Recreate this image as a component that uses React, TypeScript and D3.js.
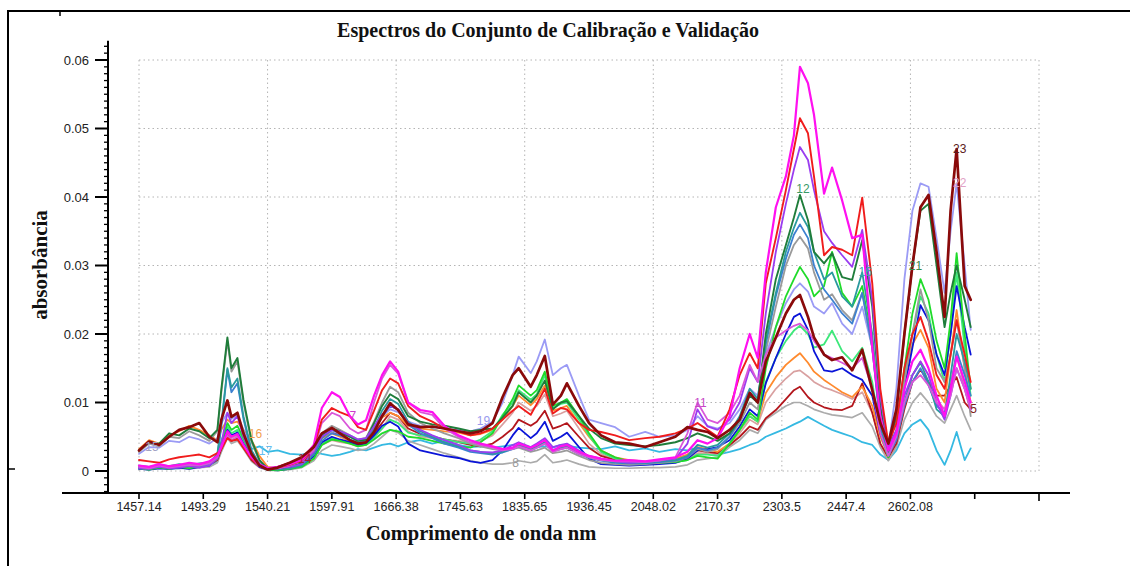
import React from 'react';
import * as d3 from 'd3';

// Spectrometer channel index of each sample (32 channels between labelled ticks)
const CHANNELS = [
  0, 5, 10, 15, 20, 25, 30, 35, 39, 41,
  44, 46, 49, 52, 56, 60, 64, 69, 75, 81,
  87, 91, 96, 100, 105, 109, 113, 117, 121, 125,
  129, 134, 140, 146, 152, 159, 165, 170, 176, 181,
  186, 189, 195, 198, 202, 206, 210, 213, 219, 224,
  230, 237, 244, 252, 259, 267, 273, 278, 283, 288,
  294, 299, 304, 308, 312, 317, 322, 326, 329, 333,
  336, 341, 345, 350, 355, 360, 365, 369, 373, 377,
  381, 385, 389, 393, 397, 401, 404, 407, 411, 414,
];

// Wavelength labels (nm) at every 32nd channel
const TICK_LABELS = [
  '1457.14', '1493.29', '1540.21', '1597.91', '1666.38', '1745.63', '1835.65',
  '1936.45', '2048.02', '2170.37', '2303.5', '2447.4', '2602.08',
];
const TICK_CHANNELS = d3.range(0, 449, 32);
const Y_TICKS = [0, 0.01, 0.02, 0.03, 0.04, 0.05, 0.06];

// Absorbance of each sample spectrum, in units of 1e-4
const magentaSpec = [
  8, 6, 10, 7, 9, 12, 10, 14, 22, 35,
  58, 50, 54, 38, 20, 9, 4, 6, 10, 16,
  38, 92, 115, 108, 80, 68, 74, 110, 140, 160,
  145, 100, 89, 86, 66, 52, 45, 40, 36, 32,
  34, 40, 34, 38, 45, 30, 36, 38, 28, 22,
  18, 15, 16, 14, 17, 20, 28, 45, 40, 48,
  80, 150, 200, 165, 290, 385, 430, 490, 590, 566,
  520, 405, 443, 395, 340, 345, 180, 80, 30, 55,
  120, 160, 177, 150, 110, 80, 120, 167, 130, 100,
];
const redSpec = [
  16, 14, 12, 17, 20, 22, 24, 20, 26, 32,
  48, 44, 46, 34, 18, 8, 4, 5, 9, 15,
  35, 75, 92, 86, 80, 64, 60, 88, 118, 135,
  128, 95, 80, 72, 62, 58, 52, 55, 62, 75,
  88, 95, 82, 98, 120, 84, 92, 90, 70, 60,
  57, 52, 45, 48, 50, 55, 62, 70, 60, 50,
  90, 140, 172, 150, 274, 340, 410, 470, 515, 493,
  430, 315, 327, 323, 315, 399, 274, 120, 40, 70,
  150, 200, 225, 190, 140, 120, 170, 220, 170, 130,
];
const purpleSpec = [
  4, 3, 6, 4, 5, 7, 5, 8, 18, 40,
  85, 70, 80, 50, 25, 10, 5, 4, 6, 10,
  28, 50, 60, 58, 52, 46, 48, 65, 82, 95,
  90, 70, 60, 52, 45, 38, 30, 28, 27, 30,
  38, 42, 35, 40, 48, 35, 38, 40, 30, 22,
  18, 14, 12, 13, 15, 18, 40, 90, 65, 60,
  75, 100, 150, 130, 230, 320, 390, 440, 473, 454,
  410, 350, 333, 315, 298, 352, 250, 110, 35, 60,
  110, 140, 160, 140, 100, 75, 110, 150, 120, 90,
];
const darkGreenSpec = [
  30, 42, 40, 55, 52, 62, 58, 48, 60, 120,
  195, 150, 165, 104, 45, 16, 3, 4, 6, 12,
  30, 52, 62, 58, 50, 44, 46, 70, 95, 112,
  105, 80, 72, 68, 66, 62, 58, 60, 62, 78,
  95, 115, 100, 110, 132, 90, 100, 102, 80, 62,
  48, 40, 38, 36, 38, 42, 48, 55, 50, 44,
  55, 75, 110, 100, 200, 280, 330, 370, 403, 366,
  320, 303, 318, 283, 279, 337, 240, 95, 30, 80,
  200, 300, 380, 390, 300, 210, 260, 300, 250, 210,
];
const tealSpec = [
  8, 6, 9, 7, 10, 8, 11, 12, 25, 70,
  150, 122, 135, 80, 30, 10, 3, 2, 4, 8,
  25, 48, 60, 56, 50, 44, 45, 62, 88, 105,
  98, 72, 58, 50, 42, 36, 30, 28, 25, 28,
  34, 38, 32, 36, 42, 30, 34, 36, 26, 20,
  16, 13, 12, 12, 14, 16, 22, 38, 34, 38,
  55, 80, 120, 105, 190, 260, 320, 355, 377, 356,
  320, 280, 290, 255, 240, 290, 200, 70, 25, 50,
  100, 140, 158, 130, 90, 80, 140, 200, 160, 120,
];
const steelBlueSpec = [
  5, 4, 7, 5, 6, 9, 7, 10, 22, 65,
  148, 115, 128, 76, 28, 9, 4, 3, 5, 9,
  24, 44, 55, 52, 46, 42, 43, 58, 80, 95,
  90, 68, 55, 48, 40, 34, 28, 26, 24, 27,
  32, 36, 30, 34, 40, 29, 32, 34, 25, 19,
  15, 12, 11, 11, 13, 15, 20, 34, 30, 34,
  50, 75, 115, 100, 185, 255, 310, 345, 360, 340,
  300, 265, 250, 230, 215, 260, 180, 65, 22, 45,
  95, 130, 150, 125, 95, 85, 120, 175, 140, 110,
];
const graySpec = [
  28, 40, 36, 50, 48, 58, 52, 44, 58, 115,
  190, 145, 160, 100, 42, 14, 4, 3, 5, 10,
  28, 55, 66, 60, 52, 46, 48, 72, 100, 123,
  115, 85, 70, 62, 55, 48, 40, 36, 32, 30,
  32, 34, 28, 30, 34, 26, 28, 30, 22, 16,
  12, 10, 9, 10, 12, 14, 20, 32, 28, 32,
  50, 70, 100, 90, 175, 240, 300, 330, 342, 325,
  290, 250, 258, 235, 220, 260, 180, 70, 28, 55,
  130, 200, 265, 220, 150, 130, 170, 220, 150, 80,
];
const greenSpec = [
  4, 2, 5, 3, 6, 4, 7, 9, 18, 40,
  70, 60, 66, 48, 24, 8, 2, 1, 3, 6,
  18, 38, 46, 44, 40, 36, 38, 46, 55, 60,
  58, 50, 48, 44, 40, 36, 34, 42, 55, 80,
  105, 125, 110, 118, 145, 95, 100, 105, 80, 55,
  30, 20, 14, 12, 12, 13, 16, 22, 20, 18,
  40, 60, 85, 75, 150, 210, 255, 280, 298, 280,
  255, 270, 320, 260, 240, 270, 190, 70, 20, 60,
  150, 230, 280, 250, 190, 150, 220, 318, 200, 120,
];
const lavenderSpec = [
  25, 35, 34, 44, 42, 50, 46, 40, 48, 70,
  85, 76, 82, 60, 30, 10, 4, 6, 8, 12,
  30, 50, 58, 55, 50, 45, 48, 66, 80, 90,
  86, 72, 66, 64, 62, 60, 58, 62, 72, 100,
  140, 167, 143, 160, 192, 140, 150, 155, 110, 75,
  70, 64, 50, 57, 50, 52, 60, 80, 66, 62,
  70, 90, 120, 110, 170, 210, 245, 265, 274, 262,
  240, 230, 245, 215, 200, 240, 180, 80, 35, 120,
  280, 380, 420, 415, 340, 260, 350, 420, 300, 206,
];
const maroonSpec = [
  30, 43, 38, 50, 60, 64, 70, 50, 42, 75,
  103, 79, 85, 55, 25, 8, 2, 5, 12, 20,
  35, 55, 63, 55, 45, 40, 42, 57, 80, 99,
  89, 68, 64, 65, 62, 58, 55, 58, 70, 108,
  140, 150, 123, 140, 168, 97, 110, 128, 95, 70,
  52, 42, 40, 35, 42, 50, 64, 60, 57, 48,
  60, 75, 114, 100, 160, 195, 230, 250, 257, 225,
  195, 170, 162, 166, 147, 177, 118, 70, 40, 90,
  200, 300, 385, 403, 320, 225, 380, 470, 270, 250,
];
const blueSpec = [
  3, 2, 4, 3, 5, 3, 6, 8, 20, 40,
  60, 52, 56, 40, 20, 6, 2, 1, 3, 8,
  22, 42, 50, 46, 42, 38, 40, 52, 66, 72,
  65, 40, 30, 26, 22, 19, 14, 12, 16, 30,
  52, 63, 48, 55, 72, 44, 50, 56, 35, 18,
  10, 9, 8, 9, 10, 12, 18, 30, 32, 35,
  45, 65, 90, 80, 128, 165, 200, 225, 230, 206,
  175, 147, 145, 150, 140, 133, 110, 55, 25, 50,
  120, 180, 242, 220, 170, 140, 200, 270, 210, 170,
];
const springGreenSpec = [
  6, 4, 7, 5, 8, 6, 9, 10, 20, 45,
  65, 55, 60, 45, 22, 8, 2, 2, 3, 7,
  20, 40, 48, 45, 41, 37, 39, 50, 62, 75,
  70, 56, 52, 50, 46, 42, 40, 46, 58, 82,
  100, 118, 104, 112, 140, 92, 98, 100, 75, 52,
  28, 18, 13, 12, 12, 13, 16, 24, 24, 22,
  40, 60, 80, 72, 130, 165, 190, 205, 212, 200,
  180, 185, 205, 175, 160, 180, 130, 55, 20, 55,
  140, 200, 255, 230, 170, 130, 200, 290, 180, 110,
];
const orangeSpec = [
  32, 45, 40, 52, 58, 66, 60, 52, 45, 60,
  75, 70, 72, 60, 45, 22, 6, 4, 10, 18,
  32, 48, 55, 50, 44, 40, 44, 60, 78, 85,
  80, 66, 62, 60, 58, 56, 52, 54, 60, 75,
  95, 110, 96, 105, 125, 88, 92, 95, 70, 50,
  30, 20, 16, 14, 15, 18, 24, 35, 32, 28,
  40, 60, 80, 72, 114, 137, 155, 165, 172, 158,
  145, 133, 125, 115, 108, 123, 95, 50, 22, 55,
  130, 185, 206, 180, 120, 100, 170, 235, 150, 100,
];
const rosySpec = [
  5, 3, 6, 4, 7, 5, 8, 9, 18, 38,
  55, 48, 52, 38, 18, 6, 2, 2, 4, 8,
  20, 38, 45, 42, 40, 36, 38, 48, 62, 80,
  75, 58, 50, 48, 46, 44, 42, 44, 52, 68,
  85, 100, 88, 95, 112, 80, 84, 88, 62, 40,
  25, 16, 13, 12, 13, 14, 18, 26, 26, 25,
  40, 55, 75, 68, 100, 120, 135, 145, 147, 138,
  130, 122, 118, 112, 105, 115, 85, 40, 18, 45,
  100, 140, 160, 140, 105, 90, 130, 170, 120, 85,
];
const darkRedSpec = [
  6, 5, 8, 6, 9, 7, 10, 9, 16, 32,
  52, 44, 48, 34, 16, 6, 3, 6, 12, 18,
  30, 50, 58, 52, 44, 40, 42, 55, 70, 85,
  80, 62, 54, 50, 46, 42, 38, 36, 40, 50,
  62, 75, 66, 72, 88, 62, 66, 70, 50, 34,
  22, 16, 14, 13, 14, 16, 20, 30, 28, 26,
  38, 50, 65, 60, 77, 89, 105, 118, 123, 108,
  100, 93, 90, 89, 95, 128, 85, 40, 20, 40,
  90, 130, 148, 130, 110, 110, 125, 137, 100, 90,
];
const lightGraySpec = [
  3, 2, 4, 3, 4, 3, 5, 6, 12, 28,
  48, 40, 44, 32, 14, 5, 1, 1, 2, 5,
  15, 30, 38, 36, 33, 30, 32, 40, 50, 60,
  56, 44, 38, 32, 26, 20, 15, 12, 10, 10,
  12, 15, 12, 14, 24, 12, 14, 16, 10, 6,
  5, 4, 4, 5, 5, 6, 9, 16, 18, 20,
  35, 45, 60, 55, 75, 85, 95, 100, 100, 95,
  90, 85, 82, 80, 78, 85, 65, 35, 15, 35,
  75, 100, 114, 100, 80, 70, 90, 110, 80, 60,
];
const cyanSpec = [
  4, 2, 5, 3, 4, 6, 5, 8, 14, 30,
  50, 44, 46, 36, 32, 36, 28, 30, 25, 24,
  28, 25, 22, 24, 28, 32, 30, 34, 38, 40,
  36, 42, 45, 40, 44, 38, 35, 36, 34, 36,
  38, 36, 33, 35, 36, 34, 38, 37, 34, 33,
  32, 36, 30, 33, 28, 32, 30, 34, 27, 24,
  28, 32, 38, 42, 50, 56, 62, 68, 72, 79,
  74, 66, 60, 55, 50, 42, 38, 24, 16, 30,
  55, 68, 75, 60, 30, 9, 30, 57, 16, 33,
];
const orchidSpec = [
  6, 4, 8, 5, 7, 9, 8, 11, 20, 36,
  52, 45, 50, 36, 18, 7, 3, 4, 8, 14,
  30, 70, 85, 80, 62, 55, 60, 100, 135, 155,
  142, 100, 86, 82, 62, 50, 42, 38, 34, 30,
  32, 36, 30, 34, 40, 28, 32, 34, 25, 20,
  16, 14, 14, 13, 15, 20, 55, 100, 75, 70,
  85, 110, 155, 130, 170, 195, 205, 212, 215, 205,
  190, 170, 165, 158, 150, 165, 120, 55, 22, 50,
  100, 130, 140, 125, 100, 90, 110, 150, 120, 90,
];

const UNIT = 1e-4;

// Drawing order: first entries sit underneath
const SERIES = [
  { key: 'cyan', color: '#35b9e2', width: 1.8, values: cyanSpec },
  { key: 'lightGray', color: '#ababab', width: 1.7, values: lightGraySpec },
  { key: 'rosy', color: '#d9a0a0', width: 1.7, values: rosySpec },
  { key: 'darkRed', color: '#b3161c', width: 1.8, values: darkRedSpec },
  { key: 'orange', color: '#ff8a2e', width: 1.8, values: orangeSpec },
  { key: 'springGreen', color: '#3de87a', width: 1.8, values: springGreenSpec },
  { key: 'blue', color: '#0a14d8', width: 1.8, values: blueSpec },
  { key: 'lavender', color: '#9b9bf5', width: 1.8, values: lavenderSpec },
  { key: 'green', color: '#1fdb2a', width: 1.8, values: greenSpec },
  { key: 'gray', color: '#9a9a9a', width: 1.8, values: graySpec },
  { key: 'steelBlue', color: '#3d80d0', width: 1.8, values: steelBlueSpec },
  { key: 'teal', color: '#2a9a9e', width: 1.8, values: tealSpec },
  { key: 'darkGreen', color: '#1f7d3a', width: 1.9, values: darkGreenSpec },
  { key: 'purple', color: '#9a3cf0', width: 1.8, values: purpleSpec },
  { key: 'orchid', color: '#d957d9', width: 1.8, values: orchidSpec },
  { key: 'red', color: '#f01c1c', width: 1.9, values: redSpec },
  { key: 'magenta', color: '#ff10f0', width: 2.2, values: magentaSpec },
  { key: 'maroon', color: '#8a0a0a', width: 2.7, values: maroonSpec },
];

// Sample numbers written on the curves (series, sample column, nudge)
const CURVE_LABELS = [
  { text: '15', series: 'lavender', col: 1, color: '#a2a2c4', dx: 0, dy: 0 },
  { text: '16', series: 'orange', col: 14, color: '#f2a050', dx: 1, dy: -6 },
  { text: '17', series: 'cyan', col: 15, color: '#66bdf0', dx: 3, dy: 5 },
  { text: '14', series: 'darkRed', col: 19, color: '#a81f2c', dx: 0, dy: 0 },
  { text: '7', series: 'magenta', col: 24, color: '#cc3acc', dx: 0, dy: 0 },
  { text: '19', series: 'lavender', col: 37, color: '#9a9aee', dx: 0, dy: -8 },
  { text: '8', series: 'lightGray', col: 40, color: '#9a9a9a', dx: 0, dy: 0 },
  { text: '11', series: 'orchid', col: 57, color: '#c648c6', dx: 0, dy: 0 },
  { text: '12', series: 'darkGreen', col: 68, color: '#3a9a66', dx: 0, dy: -6 },
  { text: '16', series: 'teal', col: 75, color: '#34aaaa', dx: 0, dy: 0 },
  { text: '21', series: 'darkGreen', col: 81, color: '#3a8a48', dx: 0, dy: 0 },
  { text: '23', series: 'maroon', col: 87, color: '#5a2020', dx: 0, dy: 0 },
  { text: '22', series: 'lavender', col: 87, color: '#e2a2c6', dx: 0, dy: 0 },
  { text: '5', series: 'darkRed', col: 89, color: '#7a2020', dx: 0, dy: 0 },
];

export default function App() {
  const W = 1130;
  const H = 566;
  const x = d3.scaleLinear().domain([0, 448]).range([139, 1039]);
  const y = d3.scaleLinear().domain([0, 0.06]).range([471, 60]);

  const line = d3
    .line<number>()
    .x((_, i) => x(CHANNELS[i]))
    .y((d) => y(d * UNIT));

  const axisY = 493;
  const axisX = 108;
  const minorTicks = d3.range(-3, 63).filter((v) => v % 10 !== 0).map((v) => v / 1000);
  const gridX = d3.range(0, 449, 64);

  const seriesByKey: Record<string, (typeof SERIES)[number]> = {};
  SERIES.forEach((s) => (seriesByKey[s.key] = s));

  const sans = "'Liberation Sans', Arial, sans-serif";
  const serif = "'Liberation Serif', 'Times New Roman', serif";

  return (
    <svg
      width={W}
      height={H}
      viewBox={`0 0 ${W} ${H}`}
      style={{ position: 'absolute', left: 0, top: 0, background: '#fff' }}
    >
      <rect x={0} y={0} width={W} height={H} fill="#fff" />
      {/* outer frame */}
      <line x1={8} y1={11} x2={W} y2={11} stroke="#000" strokeWidth={2} />
      <line x1={8} y1={10} x2={8} y2={H} stroke="#000" strokeWidth={2} />
      <line x1={60} y1={11} x2={60} y2={16} stroke="#000" strokeWidth={1.5} />
      <line x1={9} y1={469} x2={15} y2={469} stroke="#000" strokeWidth={1.5} />

      {/* title */}
      <text x={548} y={37} textAnchor="middle" fontFamily={serif} fontWeight="bold" fontSize={20} fill="#111">
        Espectros do Conjunto de Calibração e Validação
      </text>

      {/* dotted grid */}
      <g stroke="#b4b4b4" strokeWidth={1} strokeDasharray="1.5 3">
        {Y_TICKS.map((v) => (
          <line key={`gy${v}`} x1={x(0)} x2={x(448)} y1={y(v)} y2={y(v)} />
        ))}
        {gridX.map((c) => (
          <line key={`gx${c}`} x1={x(c)} x2={x(c)} y1={y(0.06)} y2={y(0)} />
        ))}
      </g>

      {/* spectra */}
      <g fill="none" strokeLinejoin="round" strokeLinecap="round">
        {SERIES.map((s) => (
          <path key={s.key} d={line(s.values) || ''} stroke={s.color} strokeWidth={s.width} />
        ))}
      </g>

      {/* sample numbers */}
      <g fontFamily={sans} fontSize={12} textAnchor="middle">
        {CURVE_LABELS.map((l, i) => {
          const s = seriesByKey[l.series];
          return (
            <text
              key={`lab${i}`}
              x={x(CHANNELS[l.col]) + 3 + l.dx}
              y={y(s.values[l.col] * UNIT) + 4 + l.dy}
              fill={l.color}
            >
              {l.text}
            </text>
          );
        })}
      </g>

      {/* y axis */}
      <line x1={axisX} x2={axisX} y1={y(0.0628)} y2={axisY} stroke="#000" strokeWidth={2} />
      {minorTicks.map((v) => (
        <line key={`mt${v}`} x1={axisX - 4} x2={axisX} y1={y(v)} y2={y(v)} stroke="#000" strokeWidth={1.3} />
      ))}
      {Y_TICKS.map((v) => (
        <g key={`yt${v}`}>
          <line x1={axisX - 13} x2={axisX} y1={y(v)} y2={y(v)} stroke="#000" strokeWidth={2} />
          <text x={89} y={y(v) + 4.5} textAnchor="end" fontFamily={sans} fontSize={13} fill="#222">
            {v === 0 ? '0' : v.toFixed(2)}
          </text>
        </g>
      ))}

      {/* x axis */}
      <line x1={62} x2={1070} y1={axisY} y2={axisY} stroke="#000" strokeWidth={2} />
      {TICK_CHANNELS.map((c, i) => (
        <g key={`xt${c}`}>
          <line x1={x(c)} x2={x(c)} y1={axisY} y2={axisY + (i === TICK_CHANNELS.length - 1 ? 8 : 6)} stroke="#000" strokeWidth={1.6} />
          {TICK_LABELS[i] && (
            <text x={x(c)} y={511} textAnchor="middle" fontFamily={sans} fontSize={12.5} fill="#222">
              {TICK_LABELS[i]}
            </text>
          )}
        </g>
      ))}

      {/* axis titles */}
      <text x={481} y={540} textAnchor="middle" fontFamily={serif} fontWeight="bold" fontSize={20.5} fill="#111">
        Comprimento de onda nm
      </text>
      <text
        transform="translate(47,265) rotate(-90)"
        textAnchor="middle"
        fontFamily={serif}
        fontWeight="bold"
        fontSize={21}
        fill="#111"
      >
        absorbância
      </text>
    </svg>
  );
}
